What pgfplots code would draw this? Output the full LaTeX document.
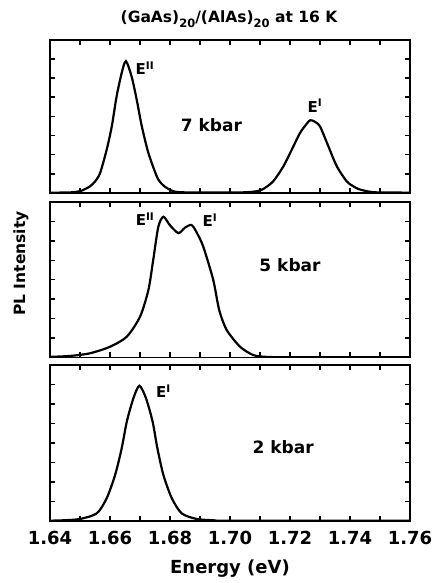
\documentclass[border=0pt]{standalone}
\usepackage{fontspec}
\setmainfont{DejaVu Sans}
\usepackage{pgfplots}
\pgfplotsset{compat=1.18}

\pgfplotstableread{
x y
1.640 0.002
1.645 0.003
1.6478 0.005
1.6505 0.015
1.6533 0.043
1.655 0.075
1.6567 0.13
1.6589 0.283
1.6606 0.435
1.6622 0.63
1.6639 0.783
1.6653 0.86
1.6672 0.76
1.6689 0.609
1.6706 0.435
1.6728 0.261
1.6756 0.108
1.6772 0.06
1.6789 0.033
1.681 0.012
1.6833 0.005
1.690 0.003
1.700 0.003
1.7056 0.005
1.709 0.012
1.7111 0.026
1.7144 0.076
1.7178 0.174
1.7206 0.283
1.7233 0.39
1.7255 0.45
1.7267 0.474
1.728 0.468
1.730 0.434
1.7328 0.304
1.7356 0.174
1.7389 0.076
1.741 0.045
1.7428 0.026
1.746 0.01
1.7489 0.004
1.755 0.003
1.760 0.002
}\sevenkbar

\pgfplotstableread{
x y
1.640 0.004
1.6467 0.01
1.6533 0.027
1.660 0.069
1.6656 0.134
1.670 0.262
1.6728 0.434
1.6744 0.627
1.6761 0.84
1.6778 0.905
1.680 0.85
1.6828 0.80
1.685 0.835
1.6872 0.852
1.689 0.80
1.6911 0.712
1.6944 0.50
1.6964 0.305
1.6989 0.177
1.7033 0.07
1.7077 0.016
1.712 0.004
1.720 0.002
1.760 0.002
}\fivekbar

\pgfplotstableread{
x y
1.640 0.002
1.645 0.005
1.650 0.013
1.6556 0.049
1.6589 0.146
1.6617 0.295
1.6639 0.466
1.6656 0.637
1.6678 0.787
1.6698 0.867
1.672 0.787
1.6742 0.637
1.6758 0.466
1.6778 0.295
1.6806 0.146
1.6839 0.049
1.6889 0.013
1.695 0.004
1.700 0.002
1.760 0.002
}\twokbar

\tikzset{
  lab/.style={font=\bfseries\fontsize{15}{15}\selectfont, inner sep=0pt},
  kbar/.style={font=\bfseries\fontsize{17}{17}\selectfont, inner sep=0pt},
  curve/.style={black, line width=2.2pt, smooth, tension=0.45, mark=none},
}

\pgfplotsset{
  panel/.style={
    scale only axis,
    width=360pt,
    xmin=1.64, xmax=1.76, ymin=0, ymax=1,
    xtick={1.64,1.66,1.68,1.70,1.72,1.74,1.76},
    minor xtick={1.65,1.67,1.69,1.71,1.73,1.75},
    ytick={0.125,0.25,0.375,0.5,0.625,0.75,0.875},
    yticklabels={},
    tick align=inside,
    xtick pos=both, ytick pos=both,
    major tick length=5pt, minor tick length=5pt,
    every tick/.style={black, line width=1.4pt},
    every minor tick/.style={black, line width=1.4pt},
    axis line style={line width=1.9pt},
  },
}

\begin{document}
\begin{tikzpicture}
\path (0pt,0pt) rectangle (435pt,583pt);

% top panel
\begin{axis}[panel, at={(50pt,390pt)}, anchor=south west, height=153.3pt, xticklabels={}]
\addplot[curve] table[x=x,y=y] {\sevenkbar};
\node[lab, anchor=west] at (axis cs:1.6685,0.815) {E\textsuperscript{II}};
\node[lab, anchor=center] at (axis cs:1.7283,0.57) {E\textsuperscript{I}};
\node[kbar, anchor=center] at (axis cs:1.6938,0.445) {7 kbar};
\end{axis}

% middle panel
\begin{axis}[panel, at={(50pt,225.5pt)}, anchor=south west, height=155.5pt, xticklabels={}]
\addplot[curve] table[x=x,y=y] {\fivekbar};
\node[lab, anchor=center] at (axis cs:1.6717,0.89) {E\textsuperscript{II}};
\node[lab, anchor=center] at (axis cs:1.6933,0.885) {E\textsuperscript{I}};
\node[kbar, anchor=center] at (axis cs:1.7200,0.595) {5 kbar};
\end{axis}

% bottom panel
\begin{axis}[panel, at={(50pt,62pt)}, anchor=south west, height=156pt,
  xticklabel style={font=\bfseries\fontsize{18}{18}\selectfont, /pgf/number format/fixed, /pgf/number format/precision=2, /pgf/number format/fixed zerofill, /pgf/number format/assume math mode=true, yshift=-7pt},
  xlabel={Energy (eV)},
  xlabel style={font=\bfseries\fontsize{18}{18}\selectfont, yshift=-8pt}]
\addplot[curve] table[x=x,y=y] {\twokbar};
\node[lab, anchor=center] at (axis cs:1.6778,0.83) {E\textsuperscript{I}};
\node[kbar, anchor=center] at (axis cs:1.7177,0.476) {2 kbar};
\end{axis}

\node[font=\bfseries\fontsize{15.5}{15.5}\selectfont, anchor=center] at (229pt,564pt) {(GaAs)\raisebox{-0.6ex}{\fontsize{11.5}{11.5}\selectfont 20}/(AlAs)\raisebox{-0.6ex}{\fontsize{11.5}{11.5}\selectfont 20} at 16 K};
\node[font=\bfseries\fontsize{15.5}{15.5}\selectfont, rotate=90, anchor=center] at (21pt,319.5pt) {PL Intensity};
\end{tikzpicture}
\end{document}
